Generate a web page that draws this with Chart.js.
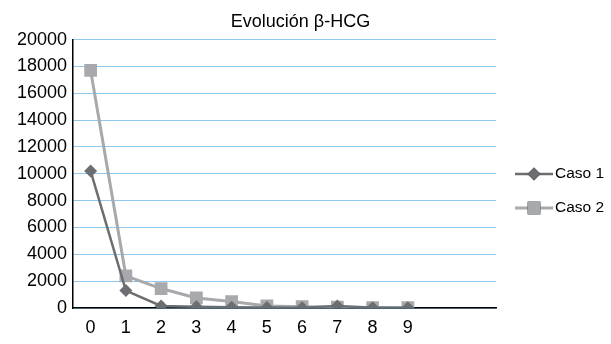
<!DOCTYPE html>
<html>
<head>
<meta charset="utf-8">
<script src="https://cdn.jsdelivr.net/npm/chart.js@4"></script>
<style>
  html, body { margin: 0; padding: 0; background: #ffffff; }
  #wrap { width: 611px; height: 344px; position: relative; }
</style>
</head>
<body>
<div id="wrap"><canvas id="c" width="611" height="344"></canvas></div>
<script>
const categories = ["0", "1", "2", "3", "4", "5", "6", "7", "8", "9", "", ""];
const caso1 = [10200, 1300, 150, 100, 50, 30, 20, 150, 10, 10];
const caso2 = [17700, 2400, 1450, 750, 480, 150, 100, 60, 30, 20];
const seriesNames = ["Caso 1", "Caso 2"];
const yTicks = { min: 0, max: 20000, step: 2000 };
const titleText = "Evolución β-HCG";

const FONT = "'Liberation Sans', Arial, Helvetica, sans-serif";
const C1 = "#6d6e71";
const C2 = "#a7a9ac";

const legendPlugin = {
  id: 'sideLegend',
  afterDraw(chart) {
    const ctx = chart.ctx;
    const x0 = 515, x1 = 553, tx = 555;
    const ys = [174, 208];
    chart.data.datasets.forEach((ds, i) => {
      const y = ys[i];
      ctx.save();
      ctx.strokeStyle = ds.borderColor;
      ctx.lineWidth = ds.borderWidth;
      ctx.beginPath();
      ctx.moveTo(x0, y);
      ctx.lineTo(x1, y);
      ctx.stroke();
      Chart.helpers.drawPoint(ctx, {
        pointStyle: ds.pointStyle,
        radius: ds.pointRadius,
        rotation: 0,
        borderWidth: 0
      }, (x0 + x1) / 2, y);
      ctx.fillStyle = ds.pointBackgroundColor;
      ctx.fill();
      ctx.fillStyle = "#000";
      ctx.font = "15.5px " + FONT;
      ctx.textBaseline = "middle";
      ctx.textAlign = "left";
      ctx.fillText(ds.label, tx, y);
      ctx.restore();
    });
  }
};

new Chart(document.getElementById('c'), {
  type: 'line',
  data: {
    labels: categories,
    datasets: [
      {
        label: seriesNames[0],
        data: caso1,
        borderColor: C1,
        backgroundColor: C1,
        pointBackgroundColor: C1,
        pointBorderColor: C1,
        borderWidth: 2.5,
        pointStyle: 'rectRot',
        pointRadius: 6.5,
        pointBorderWidth: 0,
        tension: 0
      },
      {
        label: seriesNames[1],
        data: caso2,
        borderColor: C2,
        backgroundColor: C2,
        pointBackgroundColor: C2,
        pointBorderColor: C2,
        borderWidth: 3,
        pointStyle: 'rect',
        pointRadius: 9,
        pointBorderWidth: 0,
        tension: 0
      }
    ]
  },
  options: {
    responsive: false,
    animation: false,
    devicePixelRatio: 1,
    layout: { padding: { left: 0, right: 10, top: 0, bottom: 0 } },
    plugins: {
      legend: { display: false },
      tooltip: { enabled: false },
      title: {
        display: true,
        text: titleText,
        color: '#000',
        font: { family: FONT, size: 18, weight: 'normal' },
        padding: { top: 11, bottom: 7 }
      }
    },
    scales: {
      x: {
        offset: true,
        grid: { display: false, drawTicks: false },
        border: { display: true, color: '#000', width: 1.5 },
        ticks: {
          color: '#000',
          font: { family: FONT, size: 18 },
          padding: 9,
          maxRotation: 0,
          autoSkip: false
        },
        afterFit(scale) { scale.height = 36; }
      },
      y: {
        min: yTicks.min,
        max: yTicks.max,
        grid: { color: '#8fc8ee', lineWidth: 1, drawTicks: false },
        border: { display: true, color: '#000', width: 1.5 },
        ticks: {
          stepSize: yTicks.step,
          color: '#000',
          font: { family: FONT, size: 18 },
          padding: 6,
          callback: (v) => String(v)
        },
        afterFit(scale) { scale.width = 73; }
      },
      legendSpace: {
        type: 'linear',
        position: 'right',
        display: true,
        grid: { display: false, drawTicks: false },
        border: { display: false },
        ticks: { display: false },
        afterFit(scale) { scale.width = 105; }
      }
    }
  },
  plugins: [legendPlugin]
});
</script>
</body>
</html>
